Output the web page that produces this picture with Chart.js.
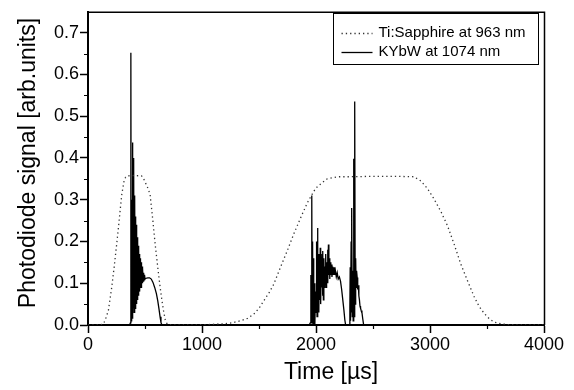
<!DOCTYPE html>
<html>
<head>
<meta charset="utf-8">
<script src="https://cdn.jsdelivr.net/npm/chart.js@4.4.1/dist/chart.umd.min.js"></script>
<style>
  html, body { margin: 0; padding: 0; background: #fff; }
  #wrap { width: 574px; height: 390px; }
</style>
</head>
<body>
<div id="wrap"><canvas id="chart"></canvas></div>
<script>
// Photodiode traces: Ti:Sapphire pump (dotted) and KYbW laser output (solid)

// ==================== DATA ====================
const seriesNames = ['Ti:Sapphire at 963 nm', 'KYbW at 1074 nm'];
const xTitle = 'Time [µs]';
const yTitle = 'Photodiode signal [arb.units]';

const xTicks = [0, 1000, 2000, 3000, 4000];
const xMinorTicks = [500, 1500, 2500, 3500];
const yTicks = [0, 0.1, 0.2, 0.3, 0.4, 0.5, 0.6, 0.7];
const yMinorTicks = [0.05, 0.15, 0.25, 0.35, 0.45, 0.55, 0.65];

// Ti:Sapphire pump pulses
const tiTime = [
    0, 100, 135, 155, 179, 208, 230, 252, 275, 296,
    315, 330, 345, 400, 470, 485, 505, 525, 545, 567,
    589, 611, 633, 648, 662, 678, 695, 720, 900, 1050,
    1190, 1260, 1336, 1400, 1454, 1500, 1542, 1590, 1630, 1688,
    1747, 1805, 1864, 1923, 1960, 1996, 2050, 2098, 2150, 2200,
    2300, 2500, 2700, 2860, 2920, 2977, 3033, 3095, 3153, 3211,
    3270, 3329, 3387, 3430, 3475, 3520, 3563, 3620, 3680, 3800,
    4000
];
const tiSignal = [
    0, 0, 0.002, 0.015, 0.035, 0.09, 0.14, 0.194, 0.255, 0.312,
    0.343, 0.354, 0.357, 0.358, 0.357, 0.352, 0.34, 0.328, 0.312, 0.255,
    0.194, 0.14, 0.09, 0.06, 0.035, 0.012, 0.002, 0, 0, 0.001,
    0.003, 0.005, 0.01, 0.016, 0.026, 0.04, 0.058, 0.078, 0.098, 0.138,
    0.177, 0.218, 0.256, 0.292, 0.31, 0.327, 0.34, 0.35, 0.353, 0.355,
    0.355, 0.356, 0.356, 0.355, 0.345, 0.327, 0.303, 0.272, 0.238, 0.194,
    0.146, 0.106, 0.068, 0.045, 0.028, 0.015, 0.007, 0.003, 0.001, 0,
    0
];

// KYbW output, first burst
const burst1Time = [
    0, 365, 372, 375, 377, 379, 382, 384, 387, 389,
    392, 394, 397, 399, 402, 404, 407, 409, 412, 414,
    417, 419, 422, 424, 427, 429, 432, 434, 437, 439,
    442, 444, 447, 449, 452, 454, 457, 459, 462, 465,
    468, 471, 474, 477, 480, 484, 488, 492, 496, 500,
    510, 525, 540, 555, 570, 585, 600, 612, 622, 632,
    640, 648
];
const burst1Signal = [
    0, 0, 0.005, 0.03, 0.652, 0.01, 0.25, 0.02, 0.3, 0.015,
    0.437, 0.03, 0.28, 0.04, 0.40, 0.03, 0.24, 0.05, 0.31, 0.04,
    0.26, 0.06, 0.24, 0.05, 0.22, 0.07, 0.21, 0.06, 0.2, 0.08,
    0.19, 0.07, 0.18, 0.09, 0.17, 0.08, 0.16, 0.1, 0.155, 0.09,
    0.15, 0.1, 0.14, 0.1, 0.135, 0.105, 0.125, 0.108, 0.12, 0.11,
    0.112, 0.113, 0.113, 0.11, 0.102, 0.09, 0.075, 0.058, 0.04, 0.02,
    0.006, 0
];

// KYbW output, second burst
const burst2Time = [
    1940, 1950, 1955, 1958, 1963, 1966, 1970, 1974, 1978, 1982,
    1986, 1990, 1995, 2000, 2005, 2009, 2013, 2017, 2021, 2025,
    2029, 2033, 2037, 2041, 2045, 2049, 2053, 2057, 2061, 2065,
    2069, 2073, 2077, 2081, 2085, 2089, 2093, 2097, 2101, 2105,
    2109, 2113, 2117, 2121, 2125, 2130, 2135, 2140, 2146, 2152,
    2158, 2164, 2170, 2178, 2186, 2195, 2205, 2215, 2225, 2235,
    2245, 2253, 2260, 2292, 2297, 2300, 2303, 2308, 2311, 2315,
    2318, 2323, 2326, 2331, 2334, 2338, 2341, 2344, 2348, 2352,
    2356, 2361, 2366, 2371, 2376, 2381, 2386, 2391, 2396, 2403,
    2410, 2418, 4000
];
const burst2Signal = [
    0, 0.005, 0.12, 0.01, 0.31, 0.005, 0.2, 0, 0.16, 0.02,
    0.1, 0, 0.08, 0.03, 0.2, 0.02, 0.232, 0.05, 0.17, 0.03,
    0.15, 0.06, 0.185, 0.05, 0.13, 0.09, 0.17, 0.07, 0.177, 0.06,
    0.16, 0.09, 0.14, 0.1, 0.17, 0.09, 0.15, 0.11, 0.18, 0.1,
    0.193, 0.12, 0.16, 0.11, 0.15, 0.12, 0.145, 0.115, 0.14, 0.12,
    0.138, 0.12, 0.13, 0.115, 0.125, 0.11, 0.115, 0.105, 0.085, 0.06,
    0.035, 0.012, 0, 0, 0.04, 0.138, 0.01, 0.2, 0.03, 0.28,
    0.02, 0.13, 0.01, 0.398, 0.02, 0.2, 0.535, 0.05, 0.16, 0.09,
    0.13, 0.114, 0.085, 0.095, 0.07, 0.06, 0.045, 0.04, 0.035, 0.03,
    0.015, 0, 0
];

const kybwTime = burst1Time.concat(burst2Time);
const kybwSignal = burst1Signal.concat(burst2Signal);

function toPoints(xs, ys) {
    return xs.map((x, i) => ({ x, y: ys[i] }));
}

// ==================== FRAME / TITLES / LEGEND ====================
const FONT = "'Liberation Sans', Arial, Helvetica, sans-serif";

const framePlugin = {
    id: 'frame',
    afterDraw(chart) {
        const { ctx, chartArea: a, scales } = chart;
        ctx.save();
        ctx.strokeStyle = '#000';

        // top and right edges of the box
        ctx.lineWidth = 1.5;
        ctx.beginPath();
        ctx.moveTo(a.left, a.top + 0.5);
        ctx.lineTo(a.right + 0.5, a.top + 0.5);
        ctx.lineTo(a.right + 0.5, a.bottom);
        ctx.stroke();

        // minor ticks, outward
        ctx.lineWidth = 1.2;
        ctx.beginPath();
        yMinorTicks.forEach(v => {
            const y = Math.round(scales.y.getPixelForValue(v)) + 0.5;
            ctx.moveTo(a.left - 4, y);
            ctx.lineTo(a.left, y);
        });
        xMinorTicks.forEach(v => {
            const x = Math.round(scales.x.getPixelForValue(v)) + 0.5;
            ctx.moveTo(x, a.bottom);
            ctx.lineTo(x, a.bottom + 4);
        });
        ctx.stroke();

        // axis titles
        ctx.fillStyle = '#000';
        ctx.font = '23px ' + FONT;
        ctx.textAlign = 'center';
        ctx.textBaseline = 'middle';
        ctx.fillText(xTitle, 331, 373);
        ctx.save();
        ctx.translate(29, 163);
        ctx.rotate(-Math.PI / 2);
        ctx.fillText(yTitle, 0, 0);
        ctx.restore();

        // legend box
        const bx = 333.5, by = 13.5, bw = 205, bh = 51;
        ctx.fillStyle = '#fff';
        ctx.fillRect(bx, by, bw, bh);
        ctx.lineWidth = 1;
        ctx.strokeRect(bx, by, bw, bh);

        const rows = [by + 19, by + 38];
        const ds = chart.data.datasets;
        ctx.font = '15px ' + FONT;
        ctx.textAlign = 'left';
        ctx.fillStyle = '#000';
        rows.forEach((ry, i) => {
            ctx.save();
            ctx.strokeStyle = ds[i].borderColor;
            ctx.lineWidth = ds[i].borderWidth;
            ctx.setLineDash(ds[i].borderDash || []);
            ctx.beginPath();
            ctx.moveTo(bx + 8, Math.round(ry) + 0.5);
            ctx.lineTo(bx + 39, Math.round(ry) + 0.5);
            ctx.stroke();
            ctx.restore();
            ctx.fillText(seriesNames[i], bx + 45, ry);
        });
        ctx.restore();
    }
};

// ==================== CHART ====================
new Chart(document.getElementById('chart'), {
    type: 'line',
    data: {
        datasets: [
            {
                label: seriesNames[0], data: toPoints(tiTime, tiSignal),
                borderColor: '#333', borderWidth: 1.3, borderDash: [1.3, 3],
                pointRadius: 0, tension: 0, fill: false
            },
            {
                label: seriesNames[1], data: toPoints(kybwTime, kybwSignal),
                borderColor: '#000', borderWidth: 1.3,
                pointRadius: 0, tension: 0, fill: false
            }
        ]
    },
    options: {
        responsive: true, maintainAspectRatio: false, animation: false, devicePixelRatio: 1,
        layout: { padding: { top: 7, right: 30, bottom: 0, left: 0 } },
        plugins: { legend: { display: false }, tooltip: { enabled: false } },
        scales: {
            x: {
                type: 'linear', min: 0, max: 4000,
                afterBuildTicks: s => { s.ticks = xTicks.map(v => ({ value: v })); },
                afterFit: s => { s.height = 65; },
                ticks: { color: '#000', font: { family: FONT, size: 18 }, padding: 1, maxRotation: 0, callback: v => String(v) },
                grid: { display: true, drawOnChartArea: false, drawTicks: true, tickLength: 8, tickWidth: 1.5, tickColor: '#000' },
                border: { display: true, color: '#000', width: 2 }
            },
            y: {
                min: 0, max: 0.75,
                afterBuildTicks: s => { s.ticks = yTicks.map(v => ({ value: v })); },
                afterFit: s => { s.width = 88; },
                ticks: { color: '#000', font: { family: FONT, size: 18 }, padding: 1, callback: v => v.toFixed(1) },
                grid: { display: true, drawOnChartArea: false, drawTicks: true, tickLength: 8, tickWidth: 1.5, tickColor: '#000' },
                border: { display: true, color: '#000', width: 2 }
            }
        }
    },
    plugins: [framePlugin]
});
</script>
</body>
</html>
